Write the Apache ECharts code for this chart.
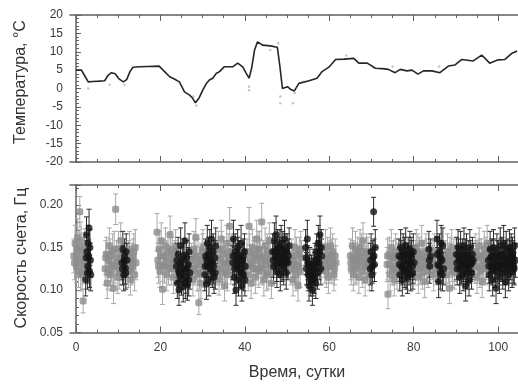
<!DOCTYPE html>
<html><head><meta charset="utf-8">
<script src="https://cdn.jsdelivr.net/npm/echarts@6/dist/echarts.min.js"></script>
<style>html,body{margin:0;padding:0;background:#fff}#c{width:518px;height:385px}</style>
</head><body><div id="c"></div>
<script>
// ---- data ----
const xMajorTicks = [0, 20, 40, 60, 80, 100];
const xMinorTicks = [0,5,10,15,20,25,30,35,40,45,50,55,60,65,70,75,80,85,90,95,100];
const xLabelValues = [0, 20, 40, 60, 80, 100];
const rateLabelValues = [0.05, 0.10, 0.15, 0.20];

// temperature [day, °C]
const tempLine = [[0,5.0],[1.3,5.0],[2.2,3.2],[2.9,1.8],[4,1.9],[5.5,2.0],[6.8,2.1],[7.6,3.6],[8.4,4.3],[9.3,4.0],[10.2,2.6],[11.2,1.8],[12.0,2.4],[12.8,4.6],[13.5,5.8],[15,5.9],[17,6.0],[19.7,6.1],[21,4.6],[22.2,3.2],[23.3,2.6],[24.5,1.8],[25.7,-0.9],[26.9,-1.8],[27.6,-2.6],[28.3,-3.9],[29.2,-2.5],[30.0,-0.5],[30.8,1.2],[31.6,2.3],[32.4,2.8],[33.2,4.1],[34,4.6],[35.1,5.9],[37.1,5.9],[38.3,6.9],[39.5,5.9],[40.3,4.2],[41.0,2.8],[41.6,5.5],[42.3,10.5],[43,12.7],[44.2,11.8],[46,11.6],[47.7,11.2],[48.3,6],[48.9,0],[50.1,0.5],[50.9,-0.3],[51.7,-0.7],[52.8,1.4],[55.2,2.1],[57.1,2.8],[58.3,4.6],[59.9,5.8],[61.5,7.9],[63.5,8.0],[65.8,8.2],[67,6.9],[69,6.9],[70.9,5.5],[72.5,5.4],[74,5.2],[75.6,4.3],[76.8,5.2],[78.4,4.8],[79.6,5.0],[81,3.9],[82.3,4.8],[84.3,4.8],[86.2,4.3],[88.2,6.1],[89.8,6.4],[91.4,7.9],[94.1,7.5],[96.1,9.1],[98,6.9],[100,7.8],[101.6,7.9],[103.3,9.6],[104.5,10.2]];
const tempRaw = [[2.9,0.0],[8.0,1.0],[11.5,1.0],[27.8,-2.2],[28.5,-4.6],[41.0,0.5],[41.0,-0.5],[48.4,-2.2],[48.4,-4.0],[51.4,-4.0],[51.8,-1.2],[46.0,10.5],[47.9,12.3],[64.0,9.0],[75.0,6.0],[86.0,6.0]];

// count rate [day, Hz, error]
const grayRate = [
[-0.5,0.140,0.020],[-0.2,0.155,0.021],[0.1,0.128,0.019],[0.2,0.148,0.020],[0.4,0.162,0.022],[0.6,0.122,0.019],[0.7,0.135,0.020],[0.9,0.192,0.018],[1.1,0.118,0.019],[1.2,0.158,0.022],[1.4,0.146,0.021],[1.6,0.126,0.019],[1.7,0.087,0.014],[1.9,0.132,0.020],[2.1,0.151,0.021],
[-0.35,0.132,0.020],[0.25,0.140,0.020],[0.85,0.150,0.021],[1.45,0.120,0.019],[1.95,0.142,0.020],
[6.9,0.125,0.019],[7.2,0.142,0.020],[7.4,0.108,0.018],[7.7,0.135,0.020],[7.9,0.152,0.021],[8.2,0.118,0.019],[8.4,0.130,0.020],[8.7,0.145,0.021],[8.9,0.102,0.018],[9.2,0.128,0.020],[9.4,0.195,0.018],[9.6,0.138,0.020],[9.9,0.115,0.019],[10.1,0.148,0.021],[10.4,0.125,0.019],[10.6,0.158,0.021],
[7.05,0.138,0.020],[7.55,0.120,0.019],[8.05,0.140,0.020],[8.55,0.125,0.019],[9.05,0.148,0.021],[9.75,0.132,0.020],[10.25,0.120,0.019],[10.75,0.140,0.020],
[12.4,0.122,0.019],[12.7,0.148,0.021],[12.9,0.112,0.018],[13.2,0.135,0.020],[13.4,0.128,0.020],[13.7,0.145,0.021],[13.9,0.118,0.019],[14.2,0.132,0.020],
[12.55,0.138,0.020],[13.05,0.125,0.019],[13.55,0.140,0.020],[14.05,0.150,0.021],
[19.2,0.168,0.022],[19.4,0.135,0.020],[19.7,0.148,0.021],[19.9,0.122,0.019],[20.2,0.158,0.021],[20.5,0.101,0.018],[20.7,0.140,0.020],[21.0,0.128,0.020],[21.2,0.152,0.021],[21.5,0.118,0.019],[21.8,0.145,0.021],[22.0,0.132,0.020],[22.3,0.165,0.022],[22.6,0.125,0.019],[22.8,0.142,0.020],[23.1,0.115,0.019],[23.4,0.138,0.020],[23.6,0.150,0.021],
[19.55,0.128,0.020],[20.05,0.140,0.020],[20.6,0.130,0.020],[21.35,0.138,0.020],[21.9,0.125,0.019],[22.45,0.148,0.021],[22.95,0.135,0.020],[23.5,0.128,0.020],
[27.4,0.135,0.020],[27.7,0.112,0.019],[27.9,0.148,0.021],[28.2,0.125,0.019],[28.4,0.162,0.022],[28.7,0.118,0.019],[28.9,0.140,0.020],[29.1,0.085,0.014],[29.4,0.130,0.020],[29.6,0.108,0.018],[29.9,0.145,0.021],[30.2,0.122,0.019],
[27.55,0.125,0.019],[28.05,0.140,0.020],[28.55,0.132,0.020],[29.25,0.120,0.019],[29.75,0.135,0.020],[30.05,0.150,0.021],
[33.4,0.125,0.019],[33.7,0.148,0.021],[33.9,0.112,0.018],[34.2,0.135,0.020],[34.4,0.160,0.022],[34.7,0.120,0.019],[34.9,0.142,0.020],[35.2,0.105,0.018],[35.4,0.130,0.020],[35.7,0.155,0.021],[35.9,0.118,0.019],[36.2,0.138,0.020],[36.4,0.175,0.022],[36.7,0.126,0.019],[36.9,0.145,0.021],
[33.55,0.138,0.020],[34.05,0.125,0.019],[34.55,0.148,0.021],[35.05,0.132,0.020],[35.55,0.122,0.019],[36.05,0.145,0.021],[36.55,0.135,0.020],
[40.5,0.140,0.020],[40.8,0.118,0.019],[41.0,0.175,0.022],[41.3,0.132,0.020],[41.5,0.108,0.018],[41.8,0.150,0.021],[42.0,0.125,0.019],[42.3,0.142,0.020],[42.5,0.115,0.019],[42.8,0.160,0.022],[43.0,0.135,0.020],[43.3,0.122,0.019],[43.5,0.148,0.021],[43.8,0.128,0.020],[44.0,0.180,0.022],[44.3,0.138,0.020],[44.5,0.112,0.019],[44.8,0.152,0.021],[45.0,0.130,0.020],[45.3,0.145,0.021],[45.5,0.120,0.019],[45.8,0.158,0.021],[46.0,0.135,0.020],[46.3,0.108,0.018],
[40.65,0.128,0.020],[41.15,0.145,0.021],[41.65,0.130,0.020],[42.15,0.138,0.020],[42.65,0.125,0.019],[43.15,0.148,0.021],[43.65,0.140,0.020],[44.15,0.125,0.019],[44.65,0.135,0.020],[45.15,0.118,0.019],[45.65,0.142,0.020],[46.15,0.128,0.020],
[50.9,0.125,0.019],[51.1,0.140,0.020],[51.4,0.112,0.019],[51.6,0.135,0.020],[51.9,0.150,0.021],[52.1,0.118,0.019],[52.4,0.130,0.020],[52.6,0.105,0.018],[52.9,0.142,0.020],[53.1,0.122,0.019],[53.4,0.138,0.020],
[51.25,0.130,0.020],[51.75,0.125,0.019],[52.25,0.142,0.020],[52.75,0.128,0.020],[53.25,0.148,0.021],
[58.8,0.135,0.020],[59.1,0.150,0.021],[59.3,0.122,0.019],[59.6,0.142,0.020],[59.8,0.115,0.019],[60.1,0.138,0.020],[60.3,0.152,0.021],[60.6,0.128,0.020],[60.8,0.145,0.021],[61.1,0.118,0.019],[61.4,0.140,0.020],[61.6,0.132,0.020],
[58.95,0.128,0.020],[59.45,0.135,0.020],[59.95,0.128,0.020],[60.45,0.140,0.020],[60.95,0.132,0.020],[61.25,0.125,0.019],
[65.0,0.140,0.020],[65.2,0.125,0.019],[65.5,0.152,0.021],[65.7,0.118,0.019],[66.0,0.135,0.020],[66.2,0.148,0.021],[66.5,0.128,0.020],[66.7,0.142,0.020],[67.0,0.115,0.019],[67.3,0.150,0.021],[67.5,0.132,0.020],[67.8,0.122,0.019],[68.0,0.158,0.021],[68.3,0.138,0.020],[68.5,0.112,0.019],[68.8,0.145,0.021],[69.0,0.128,0.020],[69.3,0.135,0.020],[69.5,0.118,0.019],
[65.1,0.132,0.020],[65.6,0.138,0.020],[66.1,0.125,0.019],[66.6,0.135,0.020],[67.15,0.140,0.020],[67.65,0.145,0.021],[68.15,0.128,0.020],[68.65,0.132,0.020],[69.15,0.142,0.020],
[73.7,0.130,0.020],[73.9,0.095,0.017],[74.2,0.142,0.020],[74.4,0.118,0.019],[74.7,0.150,0.021],[74.9,0.125,0.019],[75.2,0.138,0.020],[75.4,0.112,0.019],[75.7,0.145,0.021],[75.9,0.128,0.020],[76.2,0.135,0.020],
[73.8,0.140,0.020],[74.3,0.130,0.020],[74.8,0.138,0.020],[75.3,0.125,0.019],[75.8,0.140,0.020],[76.05,0.120,0.019],
[80.4,0.125,0.019],[80.6,0.150,0.021],[80.9,0.135,0.020],[81.1,0.115,0.019],[81.4,0.142,0.020],[81.6,0.128,0.020],[81.9,0.155,0.021],[82.1,0.120,0.019],[82.4,0.138,0.020],[82.6,0.110,0.019],[82.9,0.145,0.021],[83.1,0.130,0.020],[83.4,0.122,0.019],
[80.5,0.138,0.020],[81.0,0.145,0.021],[81.5,0.125,0.019],[82.0,0.135,0.020],[82.5,0.128,0.020],[83.0,0.140,0.020],
[84.4,0.132,0.020],[84.7,0.118,0.019],[84.9,0.145,0.021],[85.2,0.125,0.019],[84.55,0.138,0.020],[85.05,0.130,0.020],
[87.5,0.138,0.020],[87.7,0.118,0.019],[88.0,0.145,0.021],[88.2,0.128,0.020],[88.5,0.102,0.018],[88.7,0.135,0.020],[89.0,0.150,0.021],[89.2,0.122,0.019],[89.5,0.140,0.020],[89.7,0.130,0.020],
[87.6,0.128,0.020],[88.1,0.135,0.020],[88.6,0.142,0.020],[89.1,0.130,0.020],[89.6,0.120,0.019],
[94.5,0.128,0.020],[94.7,0.145,0.021],[95.0,0.115,0.019],[95.2,0.138,0.020],[95.5,0.152,0.021],[95.7,0.122,0.019],[96.0,0.140,0.020],[96.2,0.110,0.019],[96.5,0.135,0.020],[96.7,0.148,0.021],[97.0,0.125,0.019],[97.2,0.132,0.020],[97.4,0.155,0.021],
[94.6,0.138,0.020],[95.1,0.128,0.020],[95.6,0.140,0.020],[96.1,0.125,0.019],[96.6,0.130,0.020],[97.1,0.142,0.020]
];
const blackRate = [
[2.3,0.112,0.019],[2.5,0.165,0.021],[2.6,0.145,0.020],[2.8,0.128,0.020],[2.9,0.155,0.021],[3.1,0.173,0.022],[3.2,0.122,0.019],[3.4,0.135,0.020],[3.5,0.118,0.019],
[2.4,0.138,0.020],[2.7,0.120,0.019],[3.0,0.140,0.020],[3.3,0.150,0.021],
[10.9,0.132,0.020],[11.1,0.148,0.021],[11.3,0.118,0.019],[11.5,0.140,0.020],[11.7,0.126,0.019],[11.9,0.145,0.021],[12.1,0.135,0.020],
[11.0,0.125,0.019],[11.4,0.135,0.020],[11.8,0.120,0.019],
[23.8,0.128,0.020],[24.0,0.108,0.018],[24.2,0.142,0.020],[24.4,0.100,0.018],[24.6,0.118,0.019],[24.8,0.152,0.021],[25.0,0.112,0.018],[25.2,0.135,0.020],[25.4,0.104,0.018],[25.6,0.125,0.019],[25.8,0.158,0.021],[26.0,0.115,0.019],[26.2,0.138,0.020],[26.4,0.106,0.018],[26.6,0.130,0.020],[26.8,0.145,0.021],[27.0,0.120,0.019],
[23.9,0.135,0.020],[24.3,0.122,0.019],[24.7,0.130,0.020],[25.1,0.120,0.019],[25.5,0.140,0.020],[25.9,0.108,0.018],[26.3,0.125,0.019],[26.7,0.112,0.019],
[30.5,0.118,0.019],[30.7,0.140,0.020],[30.9,0.107,0.018],[31.1,0.155,0.021],[31.3,0.128,0.020],[31.5,0.112,0.019],[31.7,0.150,0.021],[31.9,0.135,0.020],[32.1,0.160,0.022],[32.3,0.122,0.019],[32.5,0.145,0.021],[32.7,0.115,0.019],[32.9,0.138,0.020],[33.1,0.152,0.021],
[30.6,0.128,0.020],[31.0,0.135,0.020],[31.4,0.142,0.020],[31.8,0.125,0.019],[32.2,0.132,0.020],[32.6,0.128,0.020],[33.0,0.120,0.019],
[37.1,0.132,0.020],[37.3,0.160,0.022],[37.5,0.115,0.019],[37.7,0.145,0.021],[37.9,0.100,0.018],[38.1,0.128,0.020],[38.3,0.150,0.021],[38.5,0.112,0.019],[38.7,0.138,0.020],[38.9,0.122,0.019],[39.1,0.155,0.021],[39.3,0.105,0.018],[39.5,0.135,0.020],[39.7,0.118,0.019],[39.9,0.145,0.021],[40.1,0.128,0.020],
[37.2,0.140,0.020],[37.6,0.125,0.019],[38.0,0.135,0.020],[38.4,0.142,0.020],[38.8,0.130,0.020],[39.2,0.120,0.019],[39.6,0.140,0.020],[40.0,0.112,0.019],
[46.6,0.145,0.021],[46.8,0.128,0.020],[47.0,0.158,0.021],[47.2,0.138,0.020],[47.4,0.165,0.022],[47.6,0.122,0.019],[47.8,0.150,0.021],[48.0,0.135,0.020],[48.2,0.142,0.020],[48.4,0.118,0.019],[48.6,0.155,0.021],[48.8,0.130,0.020],[49.0,0.148,0.021],[49.2,0.125,0.019],[49.4,0.160,0.022],[49.6,0.138,0.020],[49.8,0.120,0.019],[50.0,0.145,0.021],[50.2,0.132,0.020],[50.5,0.152,0.021],
[46.7,0.135,0.020],[47.1,0.145,0.021],[47.5,0.130,0.020],[47.9,0.140,0.020],[48.3,0.150,0.021],[48.7,0.138,0.020],[49.1,0.132,0.020],[49.5,0.145,0.021],[49.9,0.135,0.020],[50.3,0.140,0.020],
[54.4,0.150,0.021],[54.6,0.125,0.019],[54.8,0.160,0.022],[55.0,0.118,0.019],[55.2,0.105,0.018],[55.4,0.130,0.020],[55.6,0.112,0.019],[55.8,0.122,0.019],[56.0,0.100,0.018],[56.2,0.128,0.020],[56.4,0.115,0.019],[56.6,0.135,0.020],[56.8,0.108,0.018],[57.0,0.145,0.021],[57.2,0.120,0.019],[57.4,0.155,0.021],[57.6,0.132,0.020],[57.8,0.165,0.022],[58.0,0.125,0.019],[58.2,0.140,0.020],
[54.5,0.138,0.020],[54.9,0.132,0.020],[55.3,0.122,0.019],[55.7,0.118,0.019],[56.1,0.112,0.019],[56.5,0.125,0.019],[56.9,0.132,0.020],[57.3,0.138,0.020],[57.7,0.145,0.021],[58.1,0.150,0.021],
[69.7,0.125,0.019],[69.9,0.145,0.021],[70.1,0.118,0.019],[70.3,0.138,0.020],[70.5,0.192,0.017],[70.7,0.130,0.020],[70.9,0.150,0.021],
[69.8,0.135,0.020],[70.2,0.128,0.020],[70.6,0.140,0.020],
[76.5,0.140,0.020],[76.7,0.118,0.019],[76.9,0.150,0.021],[77.1,0.128,0.020],[77.3,0.112,0.019],[77.5,0.145,0.021],[77.7,0.135,0.020],[77.9,0.122,0.019],[78.1,0.152,0.021],[78.3,0.130,0.020],[78.5,0.115,0.019],[78.7,0.142,0.020],[78.9,0.125,0.019],[79.1,0.148,0.021],[79.3,0.118,0.019],[79.5,0.138,0.020],[79.7,0.128,0.020],[79.9,0.145,0.021],[80.1,0.132,0.020],
[76.6,0.130,0.020],[77.0,0.138,0.020],[77.4,0.125,0.019],[77.8,0.142,0.020],[78.2,0.120,0.019],[78.6,0.135,0.020],[79.0,0.132,0.020],[79.4,0.142,0.020],[79.8,0.120,0.019],
[83.6,0.148,0.021],[83.8,0.128,0.020],[84.0,0.140,0.020],[83.7,0.135,0.020],
[85.5,0.160,0.022],[85.7,0.130,0.020],[85.9,0.110,0.019],[86.1,0.145,0.021],[86.3,0.120,0.019],[86.5,0.155,0.021],[86.7,0.135,0.020],[86.9,0.152,0.021],[87.1,0.125,0.019],
[85.6,0.142,0.020],[86.0,0.128,0.020],[86.4,0.138,0.020],[86.8,0.118,0.019],
[90.1,0.142,0.020],[90.3,0.125,0.019],[90.5,0.150,0.021],[90.7,0.135,0.020],[90.9,0.115,0.019],[91.1,0.148,0.021],[91.3,0.128,0.020],[91.5,0.140,0.020],[91.7,0.118,0.019],[91.9,0.152,0.021],[92.1,0.132,0.020],[92.3,0.105,0.018],[92.5,0.145,0.021],[92.7,0.125,0.019],[92.9,0.138,0.020],[93.1,0.112,0.019],[93.3,0.150,0.021],[93.5,0.130,0.020],[93.7,0.120,0.019],[93.9,0.142,0.020],[94.1,0.135,0.020],
[90.2,0.132,0.020],[90.6,0.140,0.020],[91.0,0.125,0.019],[91.4,0.135,0.020],[91.8,0.130,0.020],[92.2,0.140,0.020],[92.6,0.120,0.019],[93.0,0.128,0.020],[93.4,0.138,0.020],[93.8,0.132,0.020],
[97.7,0.135,0.020],[97.9,0.118,0.019],[98.1,0.148,0.021],[98.3,0.128,0.020],[98.5,0.140,0.020],[98.7,0.112,0.019],[98.9,0.150,0.021],[99.1,0.132,0.020],[99.3,0.122,0.019],[99.5,0.102,0.018],[99.7,0.145,0.021],[99.9,0.128,0.020],[100.1,0.138,0.020],[100.3,0.115,0.019],[100.5,0.152,0.021],[100.7,0.130,0.020],[100.9,0.142,0.020],[101.1,0.120,0.019],[101.3,0.155,0.021],[101.5,0.135,0.020],[101.7,0.110,0.019],[101.9,0.148,0.021],[102.1,0.125,0.019],[102.3,0.140,0.020],[102.5,0.118,0.019],[102.7,0.150,0.021],[102.9,0.132,0.020],[103.1,0.145,0.021],[103.3,0.122,0.019],[103.5,0.138,0.020],[103.7,0.128,0.020],[103.9,0.152,0.021],[104.1,0.135,0.020],
[97.8,0.128,0.020],[98.2,0.138,0.020],[98.6,0.125,0.019],[99.0,0.140,0.020],[99.4,0.130,0.020],[99.8,0.138,0.020],[100.2,0.125,0.019],[100.6,0.140,0.020],[101.0,0.130,0.020],[101.4,0.125,0.019],[101.8,0.138,0.020],[102.2,0.132,0.020],[102.6,0.128,0.020],[103.0,0.138,0.020],[103.4,0.142,0.020],[103.8,0.125,0.019]
];

// ---- chart ----
const FONT = '"Liberation Sans", Arial, sans-serif';
const AX = '#606060';
const XMIN = -1.415, XMAX = 104.7;

function xa(grid, pos, ticks, len, line, labels) {
  return {
    type: 'value', gridIndex: grid, position: pos, min: XMIN, max: XMAX,
    axisLine: { show: line, onZero: false, lineStyle: { color: AX, width: 1.5 } },
    axisTick: { show: true, inside: true, length: len, customValues: ticks, lineStyle: { color: AX, width: 1 } },
    axisLabel: labels ? { show: true, customValues: xLabelValues, margin: 9, fontSize: 12, fontFamily: FONT, color: '#3a3a3a' } : { show: false },
    splitLine: { show: false }
  };
}

function errBars(color) {
  return function (params, api) {
    const x = api.value(0), v = api.value(1), e = api.value(2);
    const a = api.coord([x, v + e]), b = api.coord([x, v - e]);
    const w = 2.5;
    const st = { stroke: color, lineWidth: 1 };
    return { type: 'group', children: [
      { type: 'line', shape: { x1: a[0], y1: a[1], x2: b[0], y2: b[1] }, style: st },
      { type: 'line', shape: { x1: a[0] - w, y1: a[1], x2: a[0] + w, y2: a[1] }, style: st },
      { type: 'line', shape: { x1: b[0] - w, y1: b[1], x2: b[0] + w, y2: b[1] }, style: st }
    ]};
  };
}

const chart = echarts.init(document.getElementById('c'), null, { renderer: 'canvas' });
chart.setOption({
  animation: false,
  backgroundColor: '#fff',
  grid: [
    { left: 70, top: 15, width: 450, height: 147 },
    { left: 70, top: 185, width: 450, height: 147.5 }
  ],
  xAxis: [
    xa(0, 'bottom', xMinorTicks, 3, true, false),
    xa(0, 'top', xMinorTicks, 3, true, false),
    xa(1, 'bottom', xMinorTicks, 3, true, true),
    xa(1, 'top', xMinorTicks, 3, true, false),
    xa(0, 'bottom', xMajorTicks, 6, false, false),
    xa(0, 'top', xMajorTicks, 6, false, false),
    xa(1, 'bottom', xMajorTicks, 6, false, false),
    xa(1, 'top', xMajorTicks, 6, false, false)
  ],
  yAxis: [
    { type: 'value', gridIndex: 0, position: 'left', min: -20, max: 20, interval: 5,
      axisLine: { show: true, lineStyle: { color: AX, width: 1.5 } },
      axisTick: { show: true, inside: true, length: 5, lineStyle: { color: AX } },
      minorTick: { show: true, splitNumber: 5, length: 3, lineStyle: { color: AX } },
      axisLabel: { margin: 7, fontSize: 12, fontFamily: FONT, color: '#3a3a3a' },
      splitLine: { show: false } },
    { type: 'value', gridIndex: 1, position: 'left', min: 0.05, max: 0.2235, interval: 0.05,
      axisLine: { show: true, lineStyle: { color: AX, width: 1.5 } },
      axisTick: { show: true, inside: true, length: 5, lineStyle: { color: AX } },
      minorTick: { show: true, splitNumber: 5, length: 3, lineStyle: { color: AX } },
      axisLabel: { margin: 7, fontSize: 12, fontFamily: FONT, color: '#3a3a3a',
        customValues: rateLabelValues, formatter: v => v.toFixed(2) },
      splitLine: { show: false } }
  ],
  series: [
    { type: 'scatter', xAxisIndex: 0, yAxisIndex: 0, data: tempRaw, symbol: 'circle', symbolSize: 2.5,
      itemStyle: { color: '#b8b8b8' }, silent: true },
    { type: 'line', xAxisIndex: 0, yAxisIndex: 0, data: tempLine, showSymbol: false, smooth: false,
      lineStyle: { color: '#262626', width: 1.6 }, silent: true },
    { type: 'custom', xAxisIndex: 2, yAxisIndex: 1, data: grayRate, renderItem: errBars('#a9a9a9'),
      encode: { x: 0, y: 1 }, clip: true, silent: true },
    { type: 'scatter', xAxisIndex: 2, yAxisIndex: 1, data: grayRate, symbol: 'roundRect', symbolSize: 7,
      itemStyle: { color: '#8c8c8c' }, silent: true },
    { type: 'custom', xAxisIndex: 2, yAxisIndex: 1, data: blackRate, renderItem: errBars('#2a2a2a'),
      encode: { x: 0, y: 1 }, clip: true, silent: true },
    { type: 'scatter', xAxisIndex: 2, yAxisIndex: 1, data: blackRate, symbol: 'circle', symbolSize: 7,
      itemStyle: { color: '#141414' }, silent: true }
  ],
  graphic: [
    { type: 'text', x: 21, y: 82, rotation: Math.PI / 2,
      style: { text: 'Температура, °C', font: '16px ' + FONT, fill: '#333', align: 'center', verticalAlign: 'middle' } },
    { type: 'text', x: 22, y: 258, rotation: Math.PI / 2,
      style: { text: 'Скорость счета, Гц', font: '16px ' + FONT, fill: '#333', align: 'center', verticalAlign: 'middle' } },
    { type: 'text', x: 297, y: 373,
      style: { text: 'Время, сутки', font: '16px ' + FONT, fill: '#333', align: 'center', verticalAlign: 'middle' } }
  ]
});
</script>
</body></html>
